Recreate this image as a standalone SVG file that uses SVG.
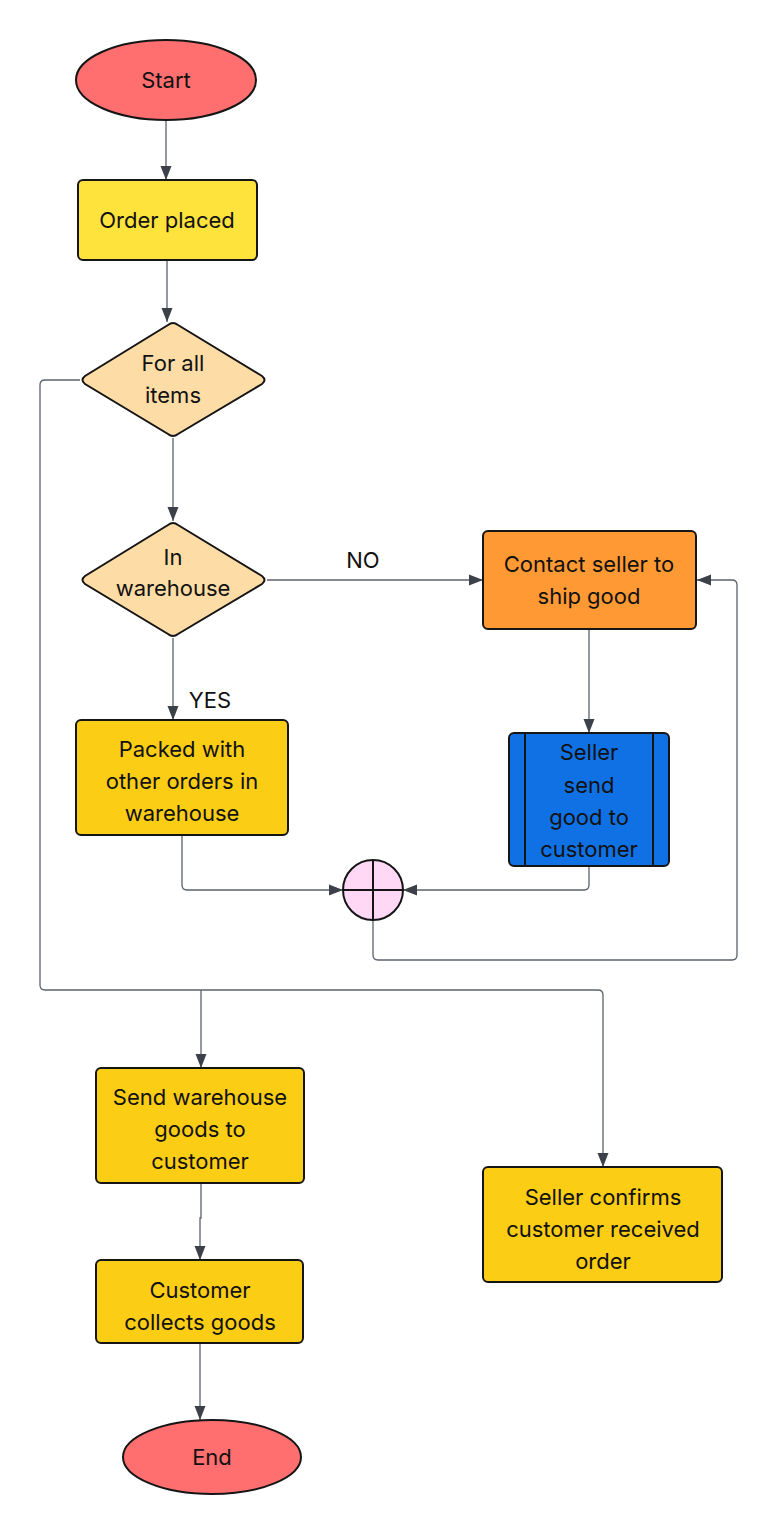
<svg xmlns="http://www.w3.org/2000/svg" width="777" height="1536" viewBox="0 0 777 1536">
<style>
  .node { stroke: #151515; stroke-width: 2; }
  .t { font-family: Inter, "Noto Sans", "Liberation Sans", sans-serif; font-size: 22px; fill: #111; text-anchor: middle; }
  .c { fill: none; stroke: #5c616b; stroke-width: 1.3; }
  .term { fill: #FF6F6F; }
  .yel { fill: #FBCD15; }
  .dia { fill: #FEDCA6; }
</style>
<defs>
  <marker id="arr" markerWidth="14" markerHeight="14" viewBox="0 0 14 14" refX="14" refY="7" orient="auto" markerUnits="userSpaceOnUse">
    <path d="M0,1.5 L14,7 L0,12.5 Z" fill="#3b4049"/>
  </marker>
</defs>
<rect width="777" height="1536" fill="#ffffff"/>

<g id="connectors">
  <path class="c" d="M166,120 V180" marker-end="url(#arr)"/>
  <path class="c" d="M167,260 V322" marker-end="url(#arr)"/>
  <path class="c" d="M173,438 V521" marker-end="url(#arr)"/>
  <path class="c" d="M267,580 H483" marker-end="url(#arr)"/>
  <path class="c" d="M173,638 V720" marker-end="url(#arr)"/>
  <path class="c" d="M589,629 V733" marker-end="url(#arr)"/>
  <path class="c" d="M182,835 V885 Q182,890 187,890 H343" marker-end="url(#arr)"/>
  <path class="c" d="M589,866 V885 Q589,890 584,890 H403" marker-end="url(#arr)"/>
  <path class="c" d="M373,920 V955 Q373,960 378,960 H732 Q737,960 737,955 V585 Q737,580 732,580 H697" marker-end="url(#arr)"/>
  <path class="c" d="M80,380 H45 Q40,380 40,385 V985 Q40,990 45,990 H598 Q603,990 603,995 V1167" marker-end="url(#arr)"/>
  <path class="c" d="M201,990 V1068" marker-end="url(#arr)"/>
  <path class="c" d="M201,1183 V1218 H200 V1260" marker-end="url(#arr)"/>
  <path class="c" d="M200,1343 V1420" marker-end="url(#arr)"/>
  <text class="t" x="363" y="568">NO</text>
  <text class="t" x="210" y="708">YES</text>
</g>

<g id="start">
  <ellipse class="node term" cx="166" cy="80" rx="90" ry="40"/>
  <text class="t" x="166" y="88">Start</text>
</g>

<g id="order-placed">
  <rect class="node" x="78" y="180" width="179" height="80" rx="5" fill="#FFE33D"/>
  <text class="t" x="167" y="228">Order placed</text>
</g>

<g id="for-all-items">
  <path class="node dia" d="M168,325 Q173,321 178,325 L262,376 Q267,380 262,384 L178,434 Q173,438 168,434 L85,384 Q80,380 85,376 Z"/>
  <text class="t" x="173" y="371">For all</text>
  <text class="t" x="173" y="403">items</text>
</g>

<g id="in-warehouse">
  <path class="node dia" d="M168,525 Q173,521 178,525 L262,576 Q267,580 262,584 L178,634 Q173,638 168,634 L85,584 Q80,580 85,576 Z"/>
  <text class="t" x="173" y="565">In</text>
  <text class="t" x="173" y="596">warehouse</text>
</g>

<g id="contact-seller">
  <rect class="node" x="483" y="531" width="213" height="98" rx="5" fill="#FF9933"/>
  <text class="t" x="589" y="572">Contact seller to</text>
  <text class="t" x="589" y="604">ship good</text>
</g>

<g id="seller-send">
  <rect class="node" x="509" y="733" width="160" height="133" rx="5" fill="#1071E5"/>
  <line class="node" x1="525" y1="733" x2="525" y2="866"/>
  <line class="node" x1="653" y1="733" x2="653" y2="866"/>
  <text class="t" x="589" y="760">Seller</text>
  <text class="t" x="589" y="793">send</text>
  <text class="t" x="589" y="825">good to</text>
  <text class="t" x="589" y="857">customer</text>
</g>

<g id="packed">
  <rect class="node yel" x="76" y="720" width="212" height="115" rx="5"/>
  <text class="t" x="182" y="757">Packed with</text>
  <text class="t" x="182" y="789">other orders in</text>
  <text class="t" x="182" y="821">warehouse</text>
</g>

<g id="junction">
  <circle class="node" cx="373" cy="890" r="30" fill="#FFD8F6"/>
  <line class="node" x1="343" y1="890" x2="403" y2="890"/>
  <line class="node" x1="373" y1="860" x2="373" y2="920"/>
</g>

<g id="send-warehouse">
  <rect class="node yel" x="96" y="1068" width="208" height="115" rx="5"/>
  <text class="t" x="200" y="1105">Send warehouse</text>
  <text class="t" x="200" y="1137">goods to</text>
  <text class="t" x="200" y="1169">customer</text>
</g>

<g id="seller-confirms">
  <rect class="node yel" x="483" y="1167" width="239" height="115" rx="5"/>
  <text class="t" x="603" y="1205">Seller confirms</text>
  <text class="t" x="603" y="1237">customer received</text>
  <text class="t" x="603" y="1269">order</text>
</g>

<g id="customer-collects">
  <rect class="node yel" x="96" y="1260" width="207" height="83" rx="5"/>
  <text class="t" x="200" y="1298">Customer</text>
  <text class="t" x="200" y="1330">collects goods</text>
</g>

<g id="end">
  <ellipse class="node term" cx="212" cy="1457" rx="89" ry="37"/>
  <text class="t" x="212" y="1465">End</text>
</g>
</svg>
